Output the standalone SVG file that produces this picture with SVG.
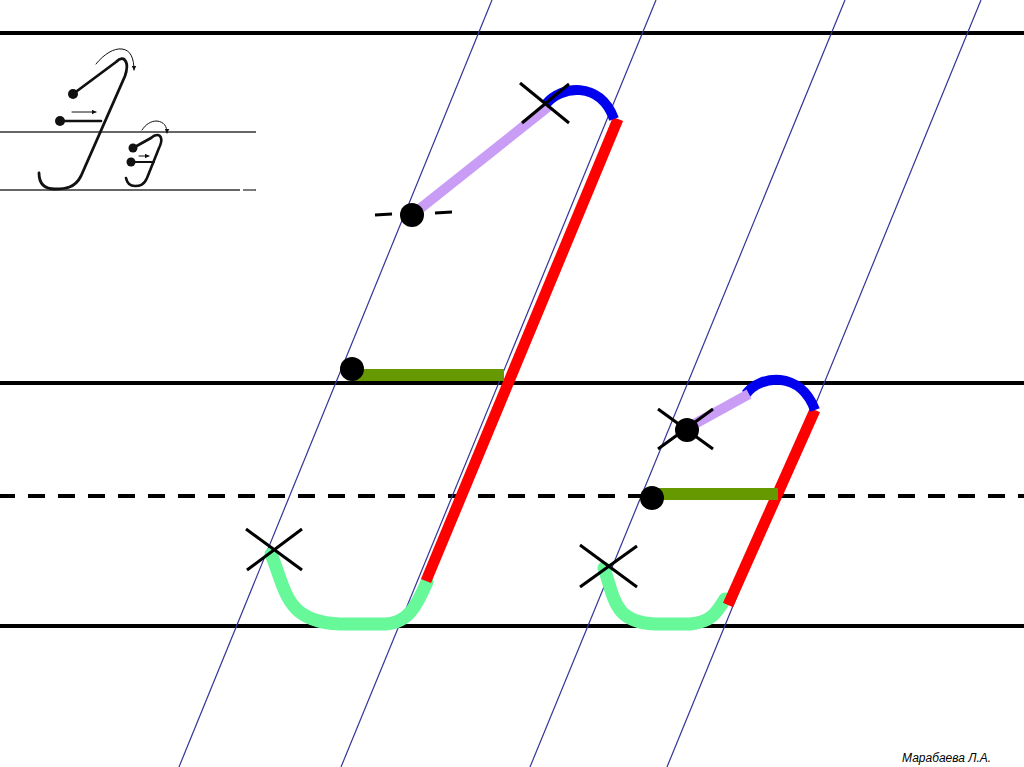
<svg xmlns="http://www.w3.org/2000/svg" width="1024" height="767" viewBox="0 0 1024 767">
<defs>
<style>
.hl{stroke:#000;stroke-width:4;fill:none}
.sl{stroke:#333399;stroke-width:1.2;fill:none}
.red{stroke:#ff0000;stroke-width:11;fill:none;stroke-linecap:butt}
.blue{stroke:#0000ee;stroke-width:10;fill:none}
.lil{stroke:#c99cf5;stroke-width:10;fill:none}
.olive{stroke:#669900;stroke-width:12;fill:none}
.mint{stroke:#66f899;stroke-width:13;fill:none;stroke-linecap:round}
.x{stroke:#000;stroke-width:3;fill:none}
.t{stroke:#111;fill:none;stroke-linecap:round;stroke-linejoin:round}
</style>
<marker id="ah" viewBox="0 0 10 10" refX="9" refY="5" markerWidth="5" markerHeight="5" orient="auto" markerUnits="userSpaceOnUse">
<path d="M0,0 L10,5 L0,10 z" fill="#111"/>
</marker>
</defs>
<rect width="1024" height="767" fill="#fff"/>
<g id="rules">
<line class="hl" x1="0" y1="33" x2="1024" y2="33"/>
<line class="hl" x1="0" y1="383" x2="1024" y2="383"/>
<line class="hl" x1="-2" y1="496" x2="1024" y2="496" stroke-dasharray="17 13"/>
<line class="hl" x1="0" y1="626" x2="1024" y2="626"/>
</g>
<g id="slants">
<line class="sl" x1="179" y1="767" x2="492" y2="0"/>
<line class="sl" x1="341" y1="767" x2="656" y2="0"/>
<line class="sl" x1="530" y1="767" x2="845" y2="0"/>
<line class="sl" x1="667" y1="767" x2="981" y2="0"/>
</g>
<g id="sample">
<line x1="0" y1="132" x2="256" y2="132" stroke="#333" stroke-width="1.3"/>
<line x1="0" y1="190" x2="240" y2="190" stroke="#333" stroke-width="1.3"/>
<line x1="243" y1="190" x2="256" y2="190" stroke="#333" stroke-width="1.3"/>
<path class="t" stroke-width="2.8" d="M73,94 L116,62 C120,58 124,57 126,62 C128,66 127,70 125,76 L81,176 C75,188 65,189 55,189 C44,189 39,183 39,173"/>
<circle cx="73" cy="94" r="5" fill="#111"/>
<circle cx="60" cy="121" r="5" fill="#111"/>
<line class="t" stroke-width="2.6" x1="60" y1="121" x2="101" y2="121"/>
<line class="t" stroke-width="1" x1="72" y1="112" x2="96" y2="112" marker-end="url(#ah)"/>
<path class="t" stroke-width="1" d="M96,64 C104,54 114,48 122,49 C131,50 134,59 134,70" marker-end="url(#ah)"/>
<path class="t" stroke-width="2.6" d="M133,148 L151,138 C155,134 160,134 161,138 C162,141 161,144 159,148 L147,178 C144,185 140,186 135,186 C130,186 127,183 126,178"/>
<circle cx="133" cy="148" r="4.5" fill="#111"/>
<circle cx="131" cy="162" r="4.5" fill="#111"/>
<line class="t" stroke-width="2.2" x1="131" y1="162" x2="154" y2="162"/>
<line class="t" stroke-width="1" x1="139" y1="156" x2="149" y2="156" marker-end="url(#ah)"/>
<path class="t" stroke-width="1" d="M142,130 C146,124 151,121 157,121 C164,122 167,126 167,133" marker-end="url(#ah)"/>
</g>
<g id="big-letter">
<path class="mint" d="M271,554 C286,590 285,622 340,624 L385,624 C410,623 418,602 427,582"/>
<line class="red" x1="618" y1="119" x2="426" y2="581"/>
<path class="blue" d="M546,104 C560,86 600,80 614,119"/>
<line class="lil" x1="412" y1="215" x2="549" y2="106"/>
<line class="olive" x1="352" y1="375" x2="504" y2="375"/>
<circle cx="352" cy="369" r="12" fill="#000"/>
<circle cx="412" cy="215" r="12" fill="#000"/>
<line class="x" stroke-width="3.5" x1="375" y1="215" x2="392" y2="214"/>
<line class="x" stroke-width="3.5" x1="435" y1="213" x2="452" y2="212"/>
<line class="x" x1="520" y1="83" x2="569" y2="123"/>
<line class="x" x1="522" y1="123" x2="569" y2="84"/>
<line class="x" x1="246" y1="529" x2="302" y2="570"/>
<line class="x" x1="247" y1="570" x2="302" y2="529"/>
</g>
<g id="small-letter">
<path class="mint" d="M604,568 C615,600 614,622 655,624 L690,624 C712,622 717,612 725,599"/>
<line class="red" x1="815" y1="410" x2="728" y2="605"/>
<path class="blue" d="M746,394 C760,375 800,370 815,410"/>
<line class="lil" x1="689" y1="427" x2="749" y2="394"/>
<line class="olive" x1="652" y1="494" x2="778" y2="494"/>
<circle cx="652" cy="498" r="12" fill="#000"/>
<circle cx="687" cy="430" r="12" fill="#000"/>
<line class="x" x1="658" y1="409" x2="713" y2="449"/>
<line class="x" x1="658" y1="449" x2="713" y2="409"/>
<line class="x" x1="580" y1="545" x2="637" y2="587"/>
<line class="x" x1="580" y1="587" x2="637" y2="546"/>
</g>
<text x="902" y="762" font-family="Liberation Sans, Arial, sans-serif" font-size="12" font-style="italic" fill="#000">Марабаева Л.А.</text>
</svg>
